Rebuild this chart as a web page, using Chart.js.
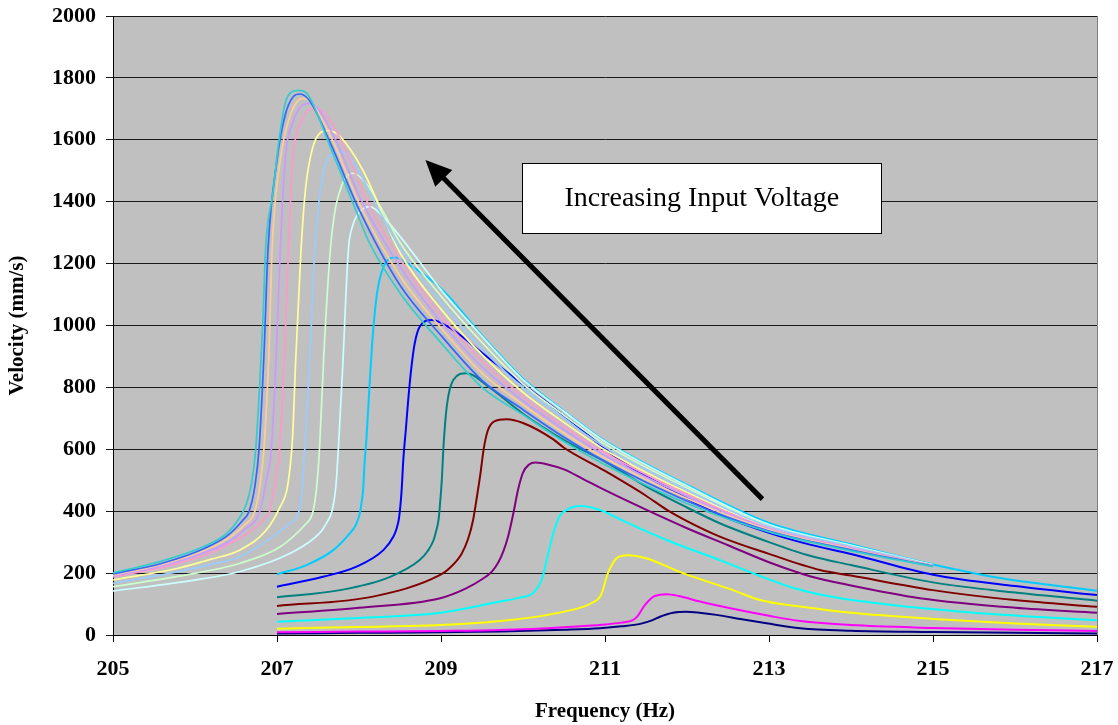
<!DOCTYPE html>
<html>
<head>
<meta charset="utf-8">
<title>Velocity vs Frequency</title>
<script src="https://cdn.jsdelivr.net/npm/chart.js@4.4.0/dist/chart.umd.min.js"></script>
<style>
  html, body { margin: 0; padding: 0; background: #fff; }
</style>
</head>
<body>
<canvas id="chart" width="1118" height="725"></canvas>
<script>
// Frequency sweeps, [Hz, mm/s]. Low-drive sweeps run 207-217 Hz,
// high-drive sweeps run 205-215 Hz.
const sweep01 = [[207, 5], [208, 7], [209, 9], [209.72, 11], [210.5, 17], [210.94, 22], [211.2, 28], [211.43, 36], [211.58, 48], [211.67, 59], [211.83, 72], [211.99, 75], [212.15, 72], [212.36, 65], [212.65, 52], [212.97, 38], [213.38, 22], [214, 14], [215, 10], [216, 7], [217, 5]];
const sweep02 = [[207, 9], [208, 11], [209, 13], [209.72, 16], [210.5, 25], [211, 34], [211.2, 40], [211.34, 48], [211.4, 62], [211.47, 91], [211.53, 110], [211.59, 124], [211.67, 130], [211.75, 132], [211.9, 126], [212.16, 108], [212.5, 88], [213, 62], [213.38, 45], [214, 32], [215, 23], [216, 17], [217, 13]];
const sweep03 = [[207, 20], [208, 26], [208.99, 32], [209.72, 45], [210.3, 65], [210.73, 91], [210.85, 105], [210.94, 124], [210.98, 150], [211.02, 188], [211.06, 215], [211.14, 248], [211.2, 255], [211.28, 258], [211.5, 248], [211.95, 200], [212.56, 145], [212.89, 113], [213.38, 92], [214, 72], [215, 52], [216, 37], [217, 27]];
const sweep04 = [[207, 43], [208, 55], [209, 72], [209.72, 108], [209.95, 120], [210.12, 135], [210.19, 158], [210.24, 188], [210.3, 255], [210.37, 329], [210.45, 385], [210.53, 404], [210.6, 413], [210.7, 417], [210.94, 404], [211.18, 374], [211.75, 307], [212.4, 242], [212.81, 199], [213.3, 152], [213.8, 122], [214.5, 97], [215.5, 72], [216.3, 58], [217, 48]];
const sweep05 = [[207, 68], [208, 88], [208.99, 119], [209.3, 150], [209.5, 180], [209.62, 205], [209.7, 235], [209.76, 270], [209.82, 320], [209.88, 390], [209.94, 470], [210, 525], [210.07, 550], [210.15, 557], [210.3, 551], [210.5, 535], [210.74, 503], [211, 468], [211.5, 405], [212, 345], [212.5, 290], [213, 235], [213.5, 190], [214, 160], [214.84, 119], [216, 88], [217, 72]];
const sweep06 = [[207, 94], [208.17, 124], [208.99, 194], [209.1, 215], [209.25, 262], [209.33, 310], [209.39, 370], [209.44, 450], [209.48, 520], [209.52, 600], [209.57, 660], [209.65, 690], [209.8, 697], [210, 685], [210.37, 632], [210.5, 605], [211, 530], [211.5, 450], [211.75, 405], [212, 368], [212.4, 318], [213, 262], [213.62, 210], [214, 192], [215, 145], [216, 113], [217, 91]];
const sweep07 = [[207, 122], [207.77, 145], [208.38, 188], [208.74, 242], [208.84, 272], [208.91, 307], [208.94, 335], [208.97, 372], [208.99, 430], [209.01, 501], [209.03, 608], [209.07, 738], [209.15, 824], [209.31, 846], [209.6, 798], [210, 715], [210.5, 630], [211, 560], [211.5, 480], [212, 412], [212.4, 361], [213, 300], [213.5, 256], [214, 226], [215, 170], [216, 137], [217, 111]];
const sweep08 = [[207, 156], [207.56, 188], [207.97, 221], [208.3, 275], [208.42, 318], [208.46, 345], [208.49, 382], [208.52, 468], [208.54, 565], [208.57, 660], [208.6, 759], [208.64, 867], [208.68, 943], [208.74, 996], [208.89, 1018], [209.15, 985], [209.56, 899], [210.09, 792], [210.57, 695], [211.18, 565], [211.8, 470], [212.4, 388], [213, 330], [213.5, 292], [214, 262], [215, 195], [216, 158], [217, 129]];
const sweep09 = [[207, 196], [207.36, 226], [207.69, 275], [207.89, 329], [207.96, 355], [208.01, 393], [208.03, 425], [208.05, 469], [208.07, 565], [208.09, 630], [208.13, 813], [208.17, 975], [208.22, 1104], [208.3, 1190], [208.44, 1220], [208.6, 1198], [209, 1120], [209.5, 968], [210, 828], [210.5, 724], [211, 627], [212, 485], [213, 362], [214, 293], [215, 228], [215.82, 184], [217, 143]];
const sweep10 = [[205, 142], [205.8, 170], [206.55, 205], [207.16, 264], [207.52, 329], [207.6, 360], [207.67, 400], [207.71, 460], [207.73, 522], [207.75, 610], [207.8, 860], [207.87, 1244], [207.92, 1320], [208.02, 1370], [208.13, 1384], [208.3, 1350], [208.5, 1288], [209, 1115], [209.5, 965], [210, 825], [210.5, 722], [211, 625], [212, 482], [213, 357], [214, 290], [215, 227]];
const sweep11 = [[205, 156], [205.8, 190], [206.55, 232], [207.04, 285], [207.36, 361], [207.41, 378], [207.44, 400], [207.48, 468], [207.52, 610], [207.57, 900], [207.65, 1244], [207.7, 1360], [207.75, 1420], [207.83, 1475], [207.93, 1492], [208.1, 1455], [208.3, 1365], [208.5, 1268], [209, 1095], [209.5, 945], [210, 811], [210.5, 710], [211, 616], [212, 475], [213, 354], [214, 288], [215, 226]];
const sweep12 = [[205, 178], [205.78, 215], [206.2, 245], [206.55, 275], [206.87, 339], [207.04, 415], [207.12, 468], [207.16, 544], [207.19, 640], [207.23, 900], [207.29, 1230], [207.34, 1420], [207.4, 1535], [207.5, 1615], [207.63, 1630], [207.77, 1610], [208.05, 1500], [208.5, 1235], [209, 1053], [209.5, 906], [210, 784], [210.5, 687], [211, 598], [212, 461], [213, 348], [214, 284], [215, 225]];
const sweep13 = [[205, 167], [205.8, 205], [206.2, 228], [206.55, 253], [206.95, 318], [207.15, 360], [207.24, 382], [207.29, 430], [207.33, 560], [207.36, 700], [207.41, 950], [207.46, 1244], [207.53, 1440], [207.61, 1535], [207.7, 1556], [207.79, 1562], [207.95, 1520], [208.2, 1395], [208.5, 1250], [209, 1074], [209.5, 925], [210, 798], [210.5, 699], [211, 607], [212, 468], [213, 351], [214, 286], [215, 225]];
const sweep14 = [[205, 188], [205.6, 218], [206.18, 264], [206.5, 305], [206.75, 350], [206.85, 378], [206.91, 400], [206.98, 500], [207.03, 598], [207.09, 900], [207.14, 1244], [207.19, 1535], [207.23, 1610], [207.28, 1650], [207.38, 1695], [207.48, 1702], [207.6, 1680], [207.85, 1560], [208.1, 1400], [208.5, 1215], [209, 1033], [209.5, 886], [210, 771], [210.5, 675], [211, 589], [212, 455], [213, 345], [214, 282], [215, 224]];
const sweep15 = [[205, 191], [205.6, 224], [206.1, 265], [206.4, 300], [206.6, 340], [206.79, 400], [206.87, 500], [206.93, 598], [206.99, 900], [207.04, 1244], [207.1, 1535], [207.2, 1660], [207.3, 1710], [207.4, 1718], [207.5, 1700], [207.75, 1580], [208, 1420], [208.5, 1190], [209, 1012], [209.5, 866], [210, 757], [210.5, 664], [211, 580], [212, 448], [213, 343], [214, 280], [215, 224]];
const sweep16 = [[205, 194], [205.6, 228], [206.1, 272], [206.4, 312], [206.6, 355], [206.73, 400], [206.79, 480], [206.84, 598], [206.9, 900], [206.94, 1244], [207.04, 1535], [207.15, 1670], [207.25, 1725], [207.33, 1734], [207.45, 1710], [207.7, 1585], [208, 1395], [208.5, 1160], [209, 992], [209.5, 846], [210, 744], [210.5, 652], [211, 571], [212, 441], [213, 340], [214, 278], [215, 223]];
const sweep17 = [[205, 197], [205.6, 232], [206.1, 278], [206.4, 322], [206.58, 370], [206.66, 400], [206.73, 480], [206.78, 598], [206.84, 900], [206.89, 1244], [207, 1535], [207.1, 1680], [207.2, 1740], [207.28, 1748], [207.4, 1725], [207.65, 1590], [208, 1375], [208.5, 1130], [209, 968], [209.5, 823], [210, 728], [210.5, 639], [211, 561], [212, 433], [213, 336], [214, 275], [215, 222]];
const sweep18 = [[205, 201], [205.57, 237], [206.1, 285], [206.39, 329], [206.55, 382], [206.63, 426], [206.69, 490], [206.74, 598], [206.79, 813], [206.83, 1028], [206.86, 1244], [206.95, 1427], [207.02, 1589], [207.1, 1718], [207.18, 1755], [207.27, 1760], [207.38, 1745], [207.65, 1576], [207.95, 1380], [208.13, 1265], [208.5, 1105], [209, 944], [209.5, 800], [210, 712], [210.5, 625], [211, 550], [212, 425], [213, 333], [214, 272], [215, 221]];

const sweeps = [sweep01, sweep02, sweep03, sweep04, sweep05, sweep06, sweep07, sweep08, sweep09,
                sweep10, sweep11, sweep12, sweep13, sweep14, sweep15, sweep16, sweep17, sweep18];
const sweepColors = ['#000080', '#ff00ff', '#ffff00', '#00ffff', '#800080', '#800000', '#008080', '#0000ff', '#00ccff',
                     '#ccffff', '#ccffcc', '#ffff99', '#99ccff', '#ff99cc', '#cc99ff', '#ffcc99', '#3366ff', '#33cccc'];

const xTicks = [205, 207, 209, 211, 213, 215, 217];
const yTicks = [0, 200, 400, 600, 800, 1000, 1200, 1400, 1600, 1800, 2000];

// arrow and caption, in data units
const arrowTail = { x: 212.92, y: 439 };
const arrowTip  = { x: 208.81, y: 1535 };
const captionBox = { left: 209.99, right: 214.37, top: 1525, bottom: 1299 };
const captionText = 'Increasing Input Voltage';

const serif = "'Liberation Serif', 'Times New Roman', serif";

const plotBackground = {
    id: 'plotBackground',
    beforeDraw(chart) {
        const { ctx, chartArea: a } = chart;
        ctx.save();
        ctx.fillStyle = '#c0c0c0';
        ctx.fillRect(a.left, a.top, a.right - a.left, a.bottom - a.top);
        ctx.restore();
    },
    afterDraw(chart) {
        const { ctx, chartArea: a } = chart;
        ctx.save();
        ctx.strokeStyle = '#808080';
        ctx.lineWidth = 1;
        ctx.beginPath();
        ctx.moveTo(a.right + 0.5, a.top);
        ctx.lineTo(a.right + 0.5, a.bottom);
        ctx.stroke();
        ctx.restore();
    },
};

const arrowNote = {
    id: 'arrowNote',
    afterDatasetsDraw(chart) {
        const { ctx, scales: { x, y } } = chart;
        const tx = x.getPixelForValue(arrowTail.x), ty = y.getPixelForValue(arrowTail.y);
        const hx = x.getPixelForValue(arrowTip.x),  hy = y.getPixelForValue(arrowTip.y);
        const ang = Math.atan2(hy - ty, hx - tx);
        const headLen = 26, headHalf = 12;

        ctx.save();
        ctx.strokeStyle = '#000';
        ctx.fillStyle = '#000';
        ctx.lineWidth = 5;
        ctx.beginPath();
        ctx.moveTo(tx, ty);
        ctx.lineTo(hx - Math.cos(ang) * (headLen - 4), hy - Math.sin(ang) * (headLen - 4));
        ctx.stroke();

        const bx = hx - Math.cos(ang) * headLen, by = hy - Math.sin(ang) * headLen;
        ctx.beginPath();
        ctx.moveTo(hx, hy);
        ctx.lineTo(bx + Math.sin(ang) * headHalf, by - Math.cos(ang) * headHalf);
        ctx.lineTo(bx - Math.sin(ang) * headHalf, by + Math.cos(ang) * headHalf);
        ctx.closePath();
        ctx.fill();

        const l = x.getPixelForValue(captionBox.left), r = x.getPixelForValue(captionBox.right);
        const t = y.getPixelForValue(captionBox.top),  b = y.getPixelForValue(captionBox.bottom);
        ctx.fillStyle = '#fff';
        ctx.fillRect(l, t, r - l, b - t);
        ctx.lineWidth = 1;
        ctx.strokeRect(Math.round(l) + 0.5, Math.round(t) + 0.5, Math.round(r - l), Math.round(b - t));
        ctx.fillStyle = '#000';
        ctx.font = `28px ${serif}`;
        ctx.textAlign = 'center';
        ctx.textBaseline = 'middle';
        ctx.fillText(captionText, (l + r) / 2, (t + b) / 2 + 1);
        ctx.restore();
    },
};

const datasets = sweeps.map((pts, i) => ({
    data: pts.map(([f, v]) => ({ x: f, y: v })),
    borderColor: sweepColors[i],
    borderWidth: i < 9 ? 2 : 1.7,
    pointRadius: 0,
    fill: false,
    cubicInterpolationMode: 'monotone',
    order: -i,
}));

new Chart(document.getElementById('chart'), {
    type: 'line',
    data: { datasets },
    options: {
        responsive: false,
        animation: false,
        devicePixelRatio: 1,
        layout: { padding: { left: 0, right: 21, top: 16, bottom: 0 } },
        plugins: { legend: { display: false }, tooltip: { enabled: false } },
        scales: {
            x: {
                type: 'linear',
                min: 205,
                max: 217,
                afterBuildTicks: s => { s.ticks = xTicks.map(v => ({ value: v })); },
                afterFit: s => {
                    s.height = 90;
                    s.paddingLeft = 0;
                    s.paddingRight = 0;
                },
                ticks: {
                    color: '#000',
                    padding: 14,
                    maxRotation: 0,
                    font: { family: serif, size: 22, weight: 'bold' },
                    callback: v => String(v),
                },
                grid: { drawOnChartArea: false, drawTicks: true, tickLength: 7, color: '#000' },
                border: { color: '#000', width: 1 },
                title: {
                    display: true,
                    text: 'Frequency (Hz)',
                    color: '#000',
                    font: { family: serif, size: 21, weight: 'bold' },
                    padding: { top: 0, bottom: 1 },
                },
            },
            y: {
                min: 0,
                max: 2000,
                afterBuildTicks: s => { s.ticks = yTicks.map(v => ({ value: v })); },
                afterFit: s => {
                    s.width = 113;
                    s.paddingTop = 0;
                    s.paddingBottom = 0;
                },
                ticks: {
                    color: '#000',
                    padding: 10,
                    font: { family: serif, size: 22, weight: 'bold' },
                    callback: v => String(v),
                },
                grid: { color: '#1a1a1a', lineWidth: 1, tickLength: 7 },
                border: { color: '#000', width: 1 },
                title: {
                    display: true,
                    text: 'Velocity (mm/s)',
                    color: '#000',
                    font: { family: serif, size: 21, weight: 'bold' },
                    padding: { top: 5, bottom: 0 },
                },
            },
        },
    },
    plugins: [plotBackground, arrowNote],
});
</script>
</body>
</html>
